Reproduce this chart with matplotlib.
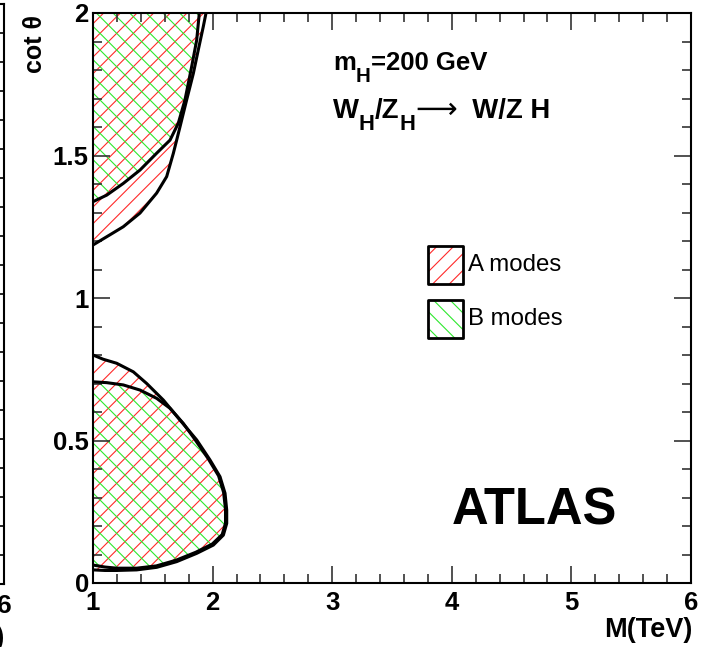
import matplotlib
matplotlib.use("Agg")
import matplotlib.pyplot as plt
from matplotlib.patches import Rectangle
from matplotlib.ticker import MultipleLocator
from matplotlib.transforms import offset_copy

plt.rcParams['font.family'] = ['Liberation Sans', 'DejaVu Sans']
plt.rcParams['hatch.linewidth'] = 0.8

# Excluded regions in the (M, cot theta) plane, m_H = 200 GeV
# upper lobe (cot theta > 1), closed along the left and top edges
upper_A_M = [1.0, 1.115, 1.253, 1.393, 1.532, 1.616, 1.672, 1.727, 1.783, 1.839, 1.88, 1.922, 1.945]
upper_A_cot = [1.186, 1.215, 1.25, 1.298, 1.368, 1.426, 1.508, 1.60, 1.695, 1.788, 1.87, 1.952, 2.0]
upper_B_M = [1.0, 1.115, 1.253, 1.393, 1.532, 1.644, 1.713, 1.769, 1.825, 1.867, 1.889]
upper_B_cot = [1.338, 1.361, 1.402, 1.449, 1.508, 1.554, 1.613, 1.695, 1.812, 1.905, 2.0]

# lower lobe (cot theta < 1), closed along the left edge
lower_A_M = [1.0, 1.086, 1.198, 1.337, 1.449, 1.588, 1.727, 1.867, 1.978, 2.062, 2.104,
             2.118, 2.118, 2.09, 2.006, 1.867, 1.70, 1.533, 1.365, 1.198, 1.10, 1.0]
lower_A_cot = [0.80, 0.785, 0.771, 0.741, 0.70, 0.642, 0.572, 0.502, 0.432, 0.373, 0.315,
               0.256, 0.209, 0.168, 0.133, 0.104, 0.075, 0.055, 0.046, 0.044, 0.044, 0.046]
lower_B_M = [1.0, 1.115, 1.253, 1.393, 1.532, 1.644, 1.755, 1.85, 1.965, 2.05, 2.092,
             2.108, 2.108, 2.08, 1.998, 1.86, 1.695, 1.53, 1.365, 1.198, 1.10, 1.0]
lower_B_cot = [0.706, 0.703, 0.695, 0.677, 0.648, 0.613, 0.56, 0.505, 0.435, 0.376, 0.318,
               0.258, 0.21, 0.17, 0.137, 0.108, 0.08, 0.06, 0.052, 0.052, 0.056, 0.063]

mode_labels = ["A modes", "B modes"]
mode_hatches = ["//", "\\\\"]
mode_colors = ["#ff2a2a", "#2ee82e"]

x_ticks = [1, 2, 3, 4, 5, 6]
y_ticks = [0, 0.5, 1, 1.5, 2]
y_tick_labels = ["0", "0.5", "1", "1.5", "2"]

W, H = 702, 647
fig = plt.figure(figsize=(W / 100, H / 100), dpi=100)
renderer = fig.canvas.get_renderer()

# neighbouring panel, only its right edge falls inside the canvas
axl = fig.add_axes([(4 - 598) / W, (H - 584) / H, 598 / W, 580 / H])
axl.set_xlim(1, 6)
axl.set_ylim(0, 2)
axl.yaxis.set_major_locator(MultipleLocator(0.1))
axl.tick_params(axis='y', which='both', left=False, right=True, labelleft=False,
                direction='in', length=8, width=1.2)
axl.set_xticks([6])
axl.set_xticklabels(["6"], fontsize=19, fontweight='bold')
axl.tick_params(axis='x', which='both', direction='in', length=0, pad=7)
for s in axl.spines.values():
    s.set_linewidth(1.5)
axl.text(1.0, -0.105, "M(TeV)", transform=axl.transAxes, ha='right', va='baseline',
         fontsize=19.5, fontweight='bold')

ax = fig.add_axes([93 / W, (H - 583) / H, 598 / W, 570 / H])
ax.set_xlim(1, 6)
ax.set_ylim(0, 2)

regions = [
    (upper_A_M + [1.0], upper_A_cot + [2.0], 0),
    (upper_B_M + [1.0], upper_B_cot + [2.0], 1),
    (lower_A_M, lower_A_cot, 0),
    (lower_B_M, lower_B_cot, 1),
]
for xs, ys, k in regions:
    ax.fill(xs, ys, facecolor='none', edgecolor=mode_colors[k], hatch=mode_hatches[k],
            linewidth=0, zorder=1)

for xs, ys in [(upper_A_M, upper_A_cot), (upper_B_M, upper_B_cot),
               (lower_A_M, lower_A_cot), (lower_B_M, lower_B_cot)]:
    ax.plot(xs, ys, color='black', lw=2.2, solid_joinstyle='round', solid_capstyle='round',
            zorder=2)

ax.set_xticks(x_ticks)
ax.set_xticklabels([str(v) for v in x_ticks])
ax.set_yticks(y_ticks)
ax.set_yticklabels(y_tick_labels)
ax.xaxis.set_minor_locator(MultipleLocator(0.2))
ax.yaxis.set_minor_locator(MultipleLocator(0.1))
ax.tick_params(which='both', direction='in', top=True, right=True, width=1.2, color='#333333')
ax.tick_params(which='major', length=12.5)
ax.tick_params(which='minor', length=6.5)
ax.tick_params(axis='x', which='major', pad=6)
ax.tick_params(axis='y', which='major', pad=3)
for lab in ax.get_xticklabels() + ax.get_yticklabels():
    lab.set_fontsize(18.5)
    lab.set_fontweight('bold')
for s in ax.spines.values():
    s.set_linewidth(1.5)

ax.text(-0.097, 0.9965, "cot θ", transform=ax.transAxes, rotation=90, ha='center', va='top',
        fontsize=18, fontweight='bold')
ax.text(1.0017, -0.0947, "M(TeV)", transform=ax.transAxes, ha='right', va='baseline',
        fontsize=19.5, fontweight='bold')


def text_runs(x, y, runs, size, sub_drop=12.0, arrow_size=None):
    """Draw a label made of consecutive pieces: (text, kind) with kind
    'n' normal, 's' subscript, 'a' thin arrow."""
    dx = 0.0
    for s, kind in runs:
        fs, dy, kw = size, 0.0, dict(fontweight='bold')
        if kind == 's':
            fs, dy = size * 0.8, -sub_drop
        elif kind == 'a':
            fs, dy = (arrow_size or size), 0.0
            kw = dict(fontweight='normal', family='DejaVu Sans')
        tr = offset_copy(ax.transAxes, fig=fig, x=dx, y=dy, units='dots')
        t = ax.text(x, y, s, transform=tr, ha='left', va='baseline', fontsize=fs, **kw)
        dx += t.get_window_extent(renderer).width


text_runs(0.401, 0.90, [("m", 'n'), ("H", 's'), ("=200 GeV", 'n')], 18.5)
text_runs(0.401, 0.8165, [("W", 'n'), ("H", 's'), ("/Z", 'n'), ("H", 's'),
                          ("⟶", 'a'), ("  W/Z H", 'n')], 19.8, sub_drop=12.5,
          arrow_size=21)

ax.text(0.600, 0.102, "ATLAS", transform=ax.transAxes, ha='left', va='baseline',
        fontsize=36.5, fontweight='bold')

# legend boxes
box_x0, box_w, box_h = 0.560, 0.0585, 0.0667
box_y0 = [0.5246, 0.430]
for k in range(2):
    ax.add_patch(Rectangle((box_x0, box_y0[k]), box_w, box_h, transform=ax.transAxes,
                           facecolor='none', edgecolor=mode_colors[k],
                           hatch=mode_hatches[k], linewidth=0, zorder=3))
    ax.add_patch(Rectangle((box_x0, box_y0[k]), box_w, box_h, transform=ax.transAxes,
                           facecolor='none', edgecolor='black', linewidth=2.0,
                           joinstyle='round', zorder=4))
    ax.text(box_x0 + box_w + 0.009, box_y0[k] + box_h / 2, mode_labels[k],
            transform=ax.transAxes, ha='left', va='center', fontsize=17.3)

fig.savefig("out.png", dpi=100)
